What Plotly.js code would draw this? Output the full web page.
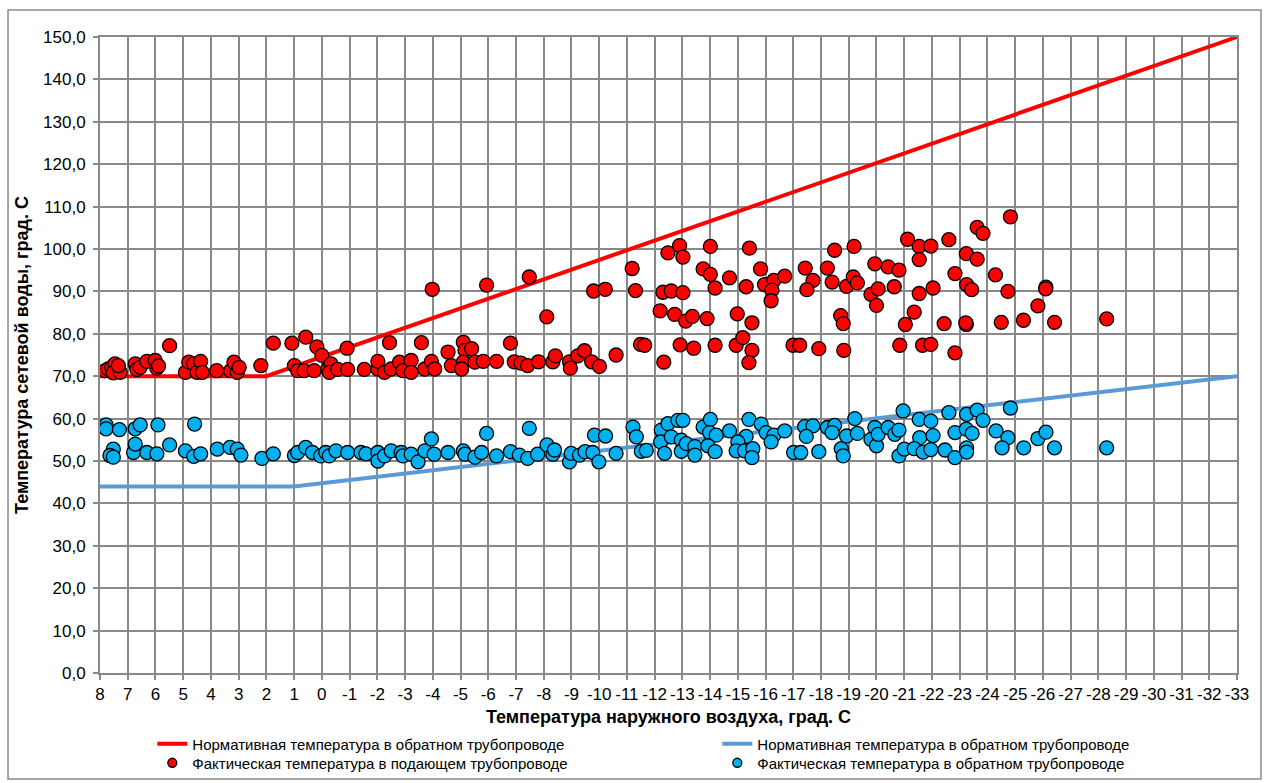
<!DOCTYPE html>
<html>
<head>
<meta charset="utf-8">
<script src="https://cdn.plot.ly/plotly-3.0.1.min.js"></script>
<style>
  html, body { margin: 0; padding: 0; background: #ffffff; }
  #chart { width: 1266px; height: 783px; }
</style>
</head>
<body>
<div id="chart"></div>
<script>
// Outdoor air temperature (°C) against heating-network water temperature (°C).

// Outdoor temperature ticks, written with a plain hyphen as the minus sign
const xTickVals = [8, 7, 6, 5, 4, 3, 2, 1, 0, -1, -2, -3, -4, -5, -6, -7, -8, -9, -10, -11, -12,
  -13, -14, -15, -16, -17, -18, -19, -20, -21, -22, -23, -24, -25, -26, -27, -28, -29, -30, -31, -32, -33];
const xTickText = ['8', '7', '6', '5', '4', '3', '2', '1', '0', '-1', '-2', '-3', '-4', '-5', '-6', '-7',
  '-8', '-9', '-10', '-11', '-12', '-13', '-14', '-15', '-16', '-17', '-18', '-19', '-20', '-21', '-22',
  '-23', '-24', '-25', '-26', '-27', '-28', '-29', '-30', '-31', '-32', '-33'];

// Normative (design) temperature schedule, break points
const supplyNormX = [8, 2, -33];
const supplyNormY = [70, 70, 150];
const returnNormX = [8, 1, -33];
const returnNormY = [44, 44, 70];

// Measured supply-pipe temperature
const supplyX = [
  7.82, 7.70, 7.58, 7.46, 7.52, 7.27, 7.34, 6.73, 6.67, 6.55, 6.31, 6.01, 5.95, 5.89, 5.49,
  4.92, 4.80, 4.62, 4.50, 4.37, 4.31, 3.79, 3.29, 3.17, 3.05, 2.98, 2.20, 1.75, 1.08, 0.99, 0.87,
  0.58, 0.18, 0.00, -0.91, -2.44, -3.59, 0.64, 0.28, -0.21, -0.33, -0.27, -0.57, -0.93, -1.53,
  -2.02, -2.02, -2.26, -2.50, -2.80, -2.92, -3.22, -3.22, -3.71, -3.95, -4.07, -4.55, -4.67,
  -5.10, -5.16, -5.40, -5.10, -5.04, -5.52, -5.82, -6.30, -3.98, -5.94,
  -7.48, -8.11, -9.80, -10.22, -11.19, -11.31, -12.48, -12.90, -13.02, -12.30, -12.60, -13.02,
  -12.20, -12.72, -13.12, -13.36, -13.75, -6.80, -6.94, -7.18, -7.42, -7.81, -8.33, -8.42,
  -8.93, -8.96, -9.23, -9.47, -9.73, -10.01, -10.61, -11.49, -11.64, -12.33, -12.92, -13.41,
  -14.01, -15.42, -14.01, -14.18, -14.70, -15.30, -15.82, -15.96, -16.30, -16.23, -16.20,
  -16.69, -17.43, -17.71, -17.49, -18.23, -18.49, -19.19, -18.40, -18.92, -19.16, -19.31,
  -19.80, -20.06, -20.00, -19.94, -20.42, -20.81, -20.64, -13.89, -14.98, -15.51, -14.18,
  -14.94, -15.18, -15.51, -15.40, -16.99, -17.23, -17.92, -18.71, -18.80, -18.82, -20.84,
  -21.12, -21.54, -21.96, -21.54, -22.61, -23.24, -23.63, -23.63, -23.84, -24.83, -22.83,
  -23.25, -23.43, -24.29, -24.74, -22.04, -21.54, -21.36, -21.04, -22.44, -23.24, -24.50,
  -25.30, -25.82, -26.11, -26.42, -28.30, -21.66, -21.96, -22.83, -26.10, -23.22
];
const supplyY = [
  71.3, 71.7, 72.1, 72.9, 70.8, 70.9, 72.5, 72.9, 71.6, 72.1, 73.5, 73.7, 71.9, 72.4, 77.2,
  70.9, 73.3, 72.9, 70.9, 73.5, 70.9, 71.3, 71.3, 73.3, 70.9, 72.1, 72.5, 77.8, 77.8, 72.5, 71.3,
  79.2, 76.9, 74.9, 76.6, 77.9, 77.9, 71.3, 71.3, 71.7, 72.9, 70.9, 71.6, 71.6, 71.6,
  71.7, 73.5, 70.9, 71.7, 73.3, 71.3, 73.7, 70.9, 71.7, 73.5, 71.7, 75.7, 72.5,
  78.0, 76.1, 76.5, 73.3, 71.7, 73.3, 73.5, 73.5, 90.5, 91.5,
  93.4, 84.0, 90.1, 90.5, 95.4, 90.2, 99.1, 100.8, 98.1, 89.8, 90.1, 89.7,
  85.4, 84.6, 83.0, 84.1, 95.3, 77.8, 73.4, 73.1, 72.5, 73.4, 73.4, 74.8,
  73.4, 71.9, 74.8, 76.0, 73.4, 72.3, 75.0, 77.5, 77.3, 73.3, 77.4, 76.6,
  100.6, 100.2, 94.0, 90.8, 93.2, 91.1, 95.3, 91.6, 92.6, 90.3, 87.8,
  93.6, 95.5, 92.6, 90.4, 95.5, 99.7, 100.6, 92.2, 91.2, 93.4, 92.0,
  89.3, 90.6, 86.7, 96.5, 95.8, 95.0, 91.1, 83.6, 84.7, 82.6, 77.3,
  77.3, 79.1, 76.1, 73.2, 77.3, 77.3, 76.5, 84.3, 82.4, 76.1, 77.3,
  102.3, 100.6, 100.7, 97.5, 102.2, 98.9, 97.6, 105.1, 103.7, 107.6, 94.2,
  91.6, 90.4, 93.9, 90.0, 90.8, 89.5, 85.1, 82.2, 82.4, 82.2, 82.7,
  83.2, 86.6, 91.0, 82.7, 83.5, 77.3, 77.5, 75.5, 90.6, 82.6
];

// Measured return-pipe temperature
const returnX = [
  7.78, 7.78, 7.30, 6.73, 6.55, 5.91, 7.52, 7.64, 7.52, 6.79, 6.73, 6.31, 5.95, 5.49, 4.59,
  4.92, 4.62, 4.37, 3.77, 3.31, 3.05, 2.92, 2.16, 1.75, 0.99, 0.87,
  0.58, 0.34, 0.04, -0.14, -0.27, -0.51, -0.93, -1.41, -1.59, -2.02, -2.02, -2.26, -2.50,
  -2.86, -2.92, -3.22, -3.47, -3.71, -3.95, -4.05, -4.55, -5.10, -5.16, -5.52, -5.76, -5.94, -6.30,
  -7.48, -6.80, -7.12, -7.42, -7.78, -8.12, -8.33, -8.39, -8.93, -8.99, -9.29, -9.49, -9.77,
  -9.99, -9.83, -10.23, -10.61, -11.22, -11.34, -11.52, -11.70, -12.24, -12.48, -12.22, -12.36,
  -12.60, -12.84, -13.02, -12.96, -12.96, -13.14, -13.45, -13.45, -13.75,
  -14.01, -13.98, -14.22, -13.92, -14.18, -14.70, -15.40, -15.84, -15.30, -15.00, -14.94,
  -15.24, -15.54, -15.51, -16.02, -16.30, -16.20, -16.69, -17.01, -17.27, -17.41, -17.71,
  -17.47, -17.92, -18.23, -18.49, -18.40, -18.73, -18.80, -18.92, -19.22, -19.31, -19.94,
  -19.80, -20.00, -20.06, -20.42, -20.66, -20.81, -20.96, -20.81, -21.00,
  -21.54, -21.96, -22.61, -23.25, -23.63, -23.84, -24.83, -21.56, -22.04, -22.83, -23.24,
  -23.45, -24.31, -24.74, -25.82, -26.11, -21.36, -21.68, -21.96, -22.47, -22.83, -23.25,
  -23.25, -24.53, -25.31, -26.42, -28.30
];
const returnY = [
  58.5, 57.6, 57.4, 57.6, 58.5, 58.5, 52.8, 51.3, 50.9, 52.0, 54.0, 52.0, 51.7, 53.8, 58.7,
  52.4, 51.1, 51.7, 52.8, 53.2, 52.8, 51.4, 50.6, 51.7, 51.3, 52.0,
  53.2, 52.0, 51.2, 52.0, 51.2, 52.4, 52.0, 52.0, 51.7, 52.0, 50.0, 51.2, 52.4,
  52.0, 51.2, 51.6, 49.8, 52.4, 55.2, 51.6, 52.0, 52.4, 51.6, 50.9, 52.0, 56.5, 51.2,
  57.7, 52.2, 51.4, 50.6, 51.6, 53.8, 51.6, 52.6, 49.8, 51.8, 51.4, 52.2, 52.0,
  49.8, 56.1, 55.9, 51.8, 58.0, 55.7, 52.3, 52.5, 57.3, 58.8, 54.5, 51.8,
  55.7, 59.6, 59.6, 54.9, 52.3, 54.1, 53.4, 51.4, 58.0,
  59.8, 56.7, 56.1, 53.6, 52.2, 57.1, 59.8, 58.7, 55.8, 54.5, 52.4,
  52.4, 52.9, 50.8, 56.7, 56.1, 54.5, 57.1, 52.0, 52.0, 58.1, 58.3,
  55.8, 52.2, 57.9, 58.4, 56.7, 52.9, 51.2, 55.9, 60.0, 56.5, 57.9,
  55.1, 53.6, 56.3, 57.9, 56.3, 57.3, 61.8, 51.2, 52.8,
  59.8, 59.4, 61.4, 61.0, 62.0, 59.6, 62.5, 55.5, 56.0, 56.7, 57.5,
  56.5, 57.1, 55.5, 55.3, 56.8, 52.9, 52.1, 52.7, 52.6, 50.8, 53.1,
  52.1, 53.1, 53.1, 53.1, 53.1
];

// Legend captions
const labelSupplyNorm = 'Нормативная температура в обратном трубопроводе';
const labelReturnNorm = 'Нормативная температура в обратном трубопроводе';
const labelSupplyFact = 'Фактическая температура в подающем трубопроводе';
const labelReturnFact = 'Фактическая температура в обратном трубопроводе';

const RED = '#ff0000';
const BLUE_LINE = '#5b9bd5';
const BLUE_DOT = '#00b0f0';
const GRID = '#898989';
const FONT = 'Liberation Sans, Arial, sans-serif';

const dotLine = { color: '#000000', width: 1.3 };

const traces = [
  { x: supplyNormX, y: supplyNormY, type: 'scatter', mode: 'lines',
    line: { color: RED, width: 4 }, name: labelSupplyNorm, showlegend: true, legend: 'legend' },
  { x: returnNormX, y: returnNormY, type: 'scatter', mode: 'lines',
    line: { color: BLUE_LINE, width: 4 }, name: labelReturnNorm, showlegend: true, legend: 'legend' },
  { x: supplyX, y: supplyY, type: 'scatter', mode: 'markers',
    marker: { color: RED, size: 14, line: dotLine }, showlegend: false, hoverinfo: 'x+y' },
  { x: returnX, y: returnY, type: 'scatter', mode: 'markers',
    marker: { color: BLUE_DOT, size: 14, line: dotLine }, showlegend: false, hoverinfo: 'x+y' },
  // smaller symbols for the legend entries of the measured series
  { x: [null], y: [null], type: 'scatter', mode: 'markers',
    marker: { color: RED, size: 9, line: dotLine }, name: labelSupplyFact, showlegend: true, legend: 'legend2' },
  { x: [null], y: [null], type: 'scatter', mode: 'markers',
    marker: { color: BLUE_DOT, size: 9, line: dotLine }, name: labelReturnFact, showlegend: true, legend: 'legend2' }
];

const legendRow = (y) => ({
  orientation: 'h',
  x: 0.046, xanchor: 'left',
  y: y, yanchor: 'top',
  entrywidth: 520, entrywidthmode: 'pixels',
  font: { family: FONT, size: 15, color: '#000000' },
  bgcolor: 'rgba(0,0,0,0)',
  traceorder: 'normal'
});

const layout = {
  width: 1266,
  height: 783,
  paper_bgcolor: '#ffffff',
  plot_bgcolor: '#ffffff',
  separators: ', ',
  font: { family: FONT, color: '#000000', size: 16 },
  margin: { l: 100, r: 29, t: 37, b: 110, autoexpand: false },
  showlegend: true,
  legend: legendRow(-0.0857),
  legend2: legendRow(-0.1156),
  xaxis: {
    range: [8, -33],
    tickmode: 'array', tickvals: xTickVals, ticktext: xTickText,
    tickangle: 0,
    showgrid: true, gridcolor: GRID, gridwidth: 2,
    zeroline: false,
    showline: true, linecolor: GRID, linewidth: 2, mirror: true,
    ticks: 'outside', ticklen: 5, tickcolor: GRID, tickwidth: 2,
    tickfont: { family: FONT, size: 17, color: '#000000' },
    title: { text: 'Температура наружного воздуха, град. С',
             font: { family: FONT, size: 18, color: '#000000', weight: 'bold' },
             standoff: 7 }
  },
  yaxis: {
    range: [0, 150],
    tickmode: 'linear', tick0: 0, dtick: 10,
    tickformat: '.1f',
    showgrid: true, gridcolor: GRID, gridwidth: 2,
    zeroline: false,
    showline: true, linecolor: GRID, linewidth: 2, mirror: true,
    ticks: 'outside', ticklen: 5, tickcolor: GRID, tickwidth: 2,
    ticklabelstandoff: 4,
    tickfont: { family: FONT, size: 17, color: '#000000' },
    title: { text: 'Температура сетевой воды, град. С',
             font: { family: FONT, size: 18, color: '#000000', weight: 'bold' },
             standoff: 10 }
  },
  shapes: [
    // outer chart frame
    { type: 'rect', xref: 'paper', yref: 'paper',
      x0: -0.0809, x1: 1.0211, y0: -0.1667, y1: 1.0425,
      line: { color: '#8a8a8a', width: 1.5 }, fillcolor: 'rgba(0,0,0,0)', layer: 'below' }
  ]
};

Plotly.newPlot('chart', traces, layout, { displayModeBar: false, staticPlot: true });
</script>
</body>
</html>
